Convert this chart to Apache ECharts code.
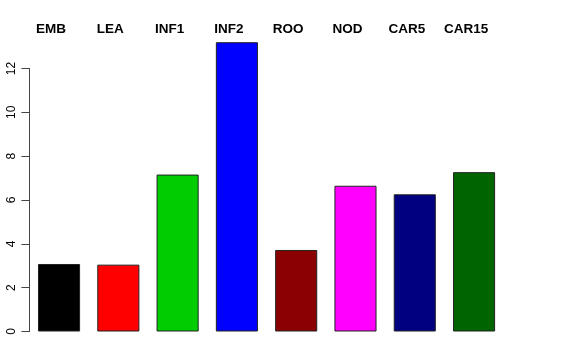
<!DOCTYPE html>
<html><head><meta charset="utf-8">
<script src="https://cdn.jsdelivr.net/npm/echarts@6/dist/echarts.min.js"></script>
<style>html,body{margin:0;padding:0;background:#fff}#c{width:576px;height:360px}</style>
</head><body><div id="c"></div>
<script>
const categories = ["EMB","LEA","INF1","INF2","ROO","NOD","CAR5","CAR15"];
const values = [3.08, 3.05, 7.16, 13.2, 3.72, 6.65, 6.26, 7.27];
const colors = ["#000000","#ff0000","#00cd00","#0000ff","#8b0000","#ff00ff","#000080","#006400"];
const yTicks = [0,2,4,6,8,10,12];

const chart = echarts.init(document.getElementById('c'), null, {renderer:'canvas'});
chart.setOption({
  animation:false,
  backgroundColor:'#fff',
  grid:{left:29.4, top:68.5, width:474.3, height:263},
  xAxis:{type:'category', data:categories, position:'top',
    axisLine:{show:false}, axisTick:{show:false},
    axisLabel:{color:'#000', fontFamily:'Liberation Sans, Arial, sans-serif', fontWeight:'bold', fontSize:13.5, margin:32, padding:[0,16,0,0], interval:0}},
  yAxis:{type:'value', min:0, max:12, interval:2,
    splitLine:{show:false},
    axisLine:{show:true, lineStyle:{color:'#444', width:1}},
    axisTick:{show:true, length:8, lineStyle:{color:'#444'}},
    axisLabel:{rotate:90, color:'#000', fontFamily:'Liberation Sans, Arial, sans-serif', fontSize:12, margin:12,
      formatter:v=>yTicks.includes(v)?String(v):''}},
  series:[{type:'bar', clip:false, barCategoryGap:'29%',
    data:values.map((v,i)=>({value:v, itemStyle:{color:colors[i]}})),
    itemStyle:{borderColor:'#222', borderWidth:1}}]
});
</script></body></html>
